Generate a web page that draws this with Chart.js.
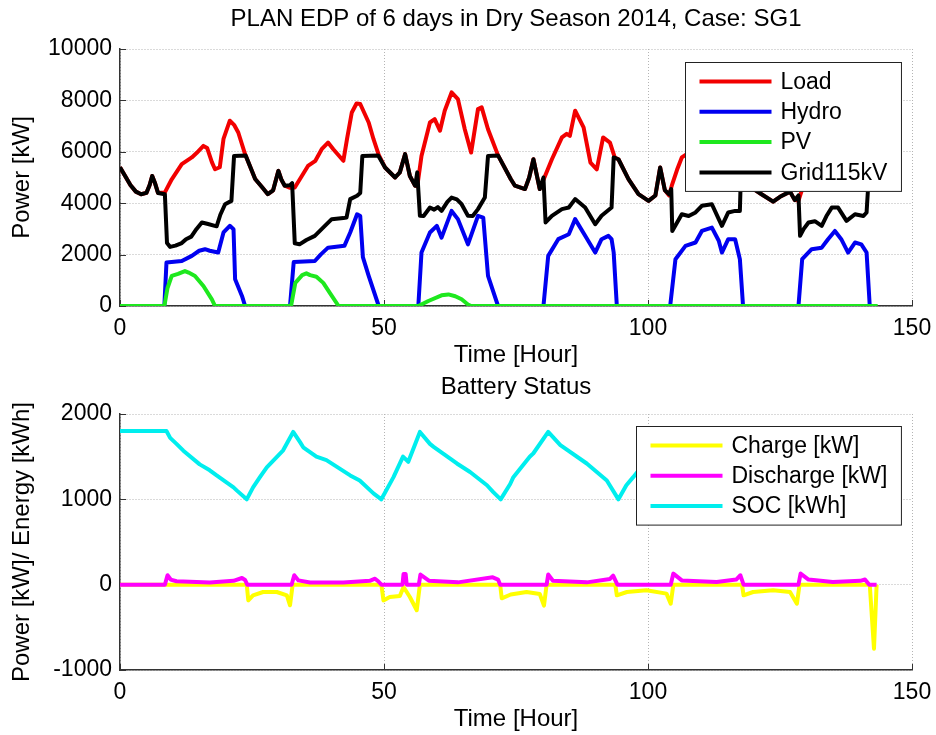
<!DOCTYPE html>
<html>
<head>
<meta charset="utf-8">
<title>PLAN EDP of 6 days in Dry Season 2014</title>
<script src="https://cdn.jsdelivr.net/npm/chart.js@4"></script>
<style>
  body { margin: 0; background: #fff; }
  #wrap { position: relative; width: 936px; height: 735px; background: #fff; }
  #power-chart { position: absolute; left: 0; top: 0; }
  #battery-chart { position: absolute; left: 0; top: 365px; }
</style>
</head>
<body>
<div id="wrap">
  <canvas id="power-chart" width="936" height="370"></canvas>
  <canvas id="battery-chart" width="936" height="369"></canvas>
</div>
<script>
// DATA: hours and values (breakpoints of each trace)
const loadHours = [0,1,2,3,4,5,5.6,6.1,6.6,7.2,8.5,9.8,11.7,13.6,14.5,15.8,16.5,17.4,18,18.9,19.6,20.8,21.6,22.4,23.7,25.6,27,28,29,30,30.6,31.2,32.2,33.1,35.6,37,38.2,39.4,40.4,42.3,43,43.9,44.8,45.5,47.1,48,49,50.2,52.1,53,54,54.9,55.9,56.3,57.1,58.7,59.6,60.6,61.5,62.8,64,65.3,66.5,67.8,68.5,69.7,71.6,74,74.8,76.7,77.5,78.3,79.5,80.5,81.8,83.7,84.6,85.2,86.2,87.8,89.1,90.3,91.5,92.8,93.7,94.4,96.3,98.2,100.1,101.4,102.3,103.2,104,104.5,105.5,106.4,108,109,110.2,111,112.1,113,114,115.2,116.5,117.4,118,119,120.3,121.5,123.7,125,126.9,127.8,128.5,129.2,130,131,132.9,134.1,134.8,135.4,136,137,137.9,139.2,140.4,141.4,142,143];
const loadKW = [5400,5050,4700,4450,4350,4400,4700,5060,4800,4400,4420,4930,5520,5780,5950,6230,6150,5600,5320,5400,6500,7210,7050,6750,5900,4940,4600,4350,4500,5260,4900,4680,4600,4610,5450,5650,6100,6360,6100,5650,6500,7530,7880,7860,7140,6500,5880,5390,5000,5200,5910,5060,4680,4650,5840,7140,7270,6820,7600,8310,8050,6880,5970,7660,7730,6880,5860,4940,4680,4550,5000,5710,4550,5060,5710,6560,6700,6620,7600,6950,5580,5320,6560,6360,5780,5710,4940,4350,4090,4300,5390,4500,4300,4680,5300,5780,6000,6100,6820,6900,7010,6300,5200,6240,6300,5600,5850,5800,4510,4350,4060,4250,4450,4120,4100,4550,5000,5450,5600,6100,6700,6750,6600,5900,5400,6040,5950,5700,5200,5200];

const hydroHours = [0,8.4,8.8,11.7,13.6,15,16.1,17,18.6,19.6,20.8,21.5,21.8,23.1,23.7,32.2,32.9,36.9,38,39.4,42.5,43.6,44.9,45.5,46,47.1,49,56.5,57.1,58.7,60,60.9,62.8,64,65.9,67.8,68.8,69.7,71.6,80.2,81.1,83,85,86.2,88.1,90,91.2,92.5,93.1,93.5,94.1,104.2,105.2,107.1,109,110.2,112.1,113.4,114,115.2,116.5,117.4,118,128.5,129.2,131,132.9,134.1,135.4,136.6,137.9,139.2,140.4,141.4,142,143];
const hydroKW = [0,0,1690,1750,1950,2150,2210,2150,2080,2860,3120,2990,1040,390,0,0,1710,1750,2000,2270,2340,2860,3570,3500,1900,1170,0,0,2080,2860,3120,2660,3700,3380,2400,3510,3440,1170,0,0,1950,2600,2790,3380,2730,2080,2600,2730,2600,2080,0,0,1820,2340,2470,2920,3050,2540,2080,2600,2600,1820,0,0,1820,2210,2270,2600,2920,2600,2080,2470,2400,2080,0,0];

const pvHours = [0,8.4,9,9.8,11,12.3,13,14.2,15.8,17.4,18,32.4,33.2,34.5,35.3,36,37.2,38.5,39.8,41.4,56.5,58.4,60.9,62.2,63.5,64.7,65.9,66.5,143.5];
const pvKW = [0,0,700,1170,1250,1360,1300,1170,780,260,0,0,900,1200,1270,1200,1140,900,490,0,0,195,415,450,380,260,60,0,0];

const gridHours = [0,1,2,3,4,5,5.6,6.1,6.6,7.2,8.5,8.9,9.5,10.5,11.7,12.5,13.5,14.5,15.5,16.5,18.3,19,19.9,21.1,21.6,23.8,25.6,27,28,29,30,30.6,31.2,32.2,32.6,33.1,34,35.3,36.9,38.8,40.1,42.3,42.9,43.6,44.9,45.5,45.9,48.9,50.2,52.1,53,54,54.9,55.9,56.3,56.8,57.5,58.7,59.5,60.2,60.9,62,62.8,63.8,64.7,65.9,66.8,67.8,69.1,69.7,71.6,74,74.8,76.7,77.5,78.3,79.5,80.2,80.6,81.8,83.7,85,86.2,88.1,90,91.2,93.1,93.5,94.4,96.3,98.2,100.1,101.4,102.3,103.2,104,104.4,104.6,106.4,107.7,109,110.2,112.1,113.4,114,115.2,116.5,117.4,117.7,119,120.3,121.5,123.7,125,126.9,127.8,128.5,128.8,129.5,130.4,131.6,132.9,133.8,134.8,136,137.6,139.2,140.8,141.4,141.8,143];
const gridKW = [5400,5050,4700,4450,4350,4400,4700,5060,4800,4400,4350,2450,2300,2350,2450,2600,2700,3000,3250,3200,3100,3550,3960,4090,5840,5860,4940,4600,4350,4500,5260,4900,4680,4700,4780,2440,2400,2570,2730,3120,3380,3420,3440,4160,4290,4400,5840,5860,5390,5000,5200,5910,5060,4680,5200,3510,3500,3830,3750,3850,3700,4050,4220,4150,3960,3510,3500,3770,4220,5840,5860,4940,4680,4550,5000,5710,4550,5000,3250,3510,3770,3830,4160,3830,3180,3510,3830,5780,5710,4940,4350,4090,4300,5390,4500,4350,4550,2920,3570,3500,3640,3900,3960,3380,3120,3640,3700,3700,5850,5850,4510,4350,4060,4250,4450,4120,4300,2730,3000,3250,3300,3120,3500,3830,3830,3310,3570,3500,3640,5000,5200];

const chargeHours = [0,24,24.3,25.2,27.1,29.7,31.6,32.2,32.7,49.5,49.9,51.1,53,53.7,54.9,56.2,56.8,72,72.3,74,77,79.5,80.3,80.8,93.8,94.1,96,99.7,103.5,104.3,104.8,117.8,118.1,119.9,123.7,126.9,128.2,128.7,142,142.8,143.3];
const chargeKW = [0,0,-184,-125,-86,-86,-125,-242,0,0,-184,-145,-133,-27,-145,-300,0,0,-160,-115,-85,-110,-245,0,0,-125,-86,-66,-105,-223,0,0,-125,-86,-66,-86,-223,0,0,-750,0];

const dischargeHours = [0,8.5,9,9.6,10.7,17,21.5,23.1,23.7,24.1,32.5,33,33.8,36,42.3,47.3,48.3,48.9,49.5,53.5,53.7,54.1,54.3,56.6,56.9,58.5,64,70.6,71.6,72,80.8,81.1,82,88.4,92.8,93.4,94.2,104.3,104.8,106.4,113,116.7,117.5,118.1,128.5,128.9,130.4,135,140.2,141.1,141.9,143.3];
const dischargeKW = [0,0,110,60,40,25,45,78,55,0,0,110,50,25,25,45,70,40,0,0,125,125,0,0,118,47,27,86,60,0,0,118,47,27,67,106,0,0,130,50,30,60,110,0,0,130,60,30,45,60,0,0];

const socHours = [0,8.8,9.5,10.7,12,15.1,17,18.3,21.5,22.1,24,25.2,26.5,27.8,30.9,32.8,34.1,34.7,37.2,39.1,43.6,45.4,48,49.5,51.8,53.6,54.6,56.8,58.7,59.4,63.8,66.3,69.5,70.7,72.1,73.9,74.5,77.6,78.3,81.1,83.4,88.4,92.2,94.4,95.9,97.2,100,104.6,106.5,112,116,117.8,120,124,128.8,130.5,136,140,142,143];
const socKWh = [1800,1800,1720,1650,1570,1410,1340,1280,1140,1105,1000,1140,1260,1375,1575,1790,1670,1610,1500,1460,1280,1220,1070,1000,1260,1500,1440,1790,1650,1615,1420,1320,1165,1085,1000,1180,1260,1500,1540,1790,1635,1420,1220,1000,1165,1260,1480,1790,1640,1420,1220,1000,1230,1500,1790,1640,1420,1220,1000,1200];

const FONT = '"Liberation Sans", Arial, Helvetica, sans-serif';
Chart.defaults.font.family = FONT;
Chart.defaults.color = '#000';

// HELPERS
const toPoints = (hours, values) => hours.map((h, i) => ({ x: h, y: values[i] }));

const makeLine = (label, hours, values, color, order) => ({
  label: label,
  data: toPoints(hours, values),
  borderColor: color,
  backgroundColor: color,
  borderWidth: 4,
  borderJoinStyle: 'round',
  pointRadius: 0,
  tension: 0,
  fill: false,
  order: order
});

// MATLAB style ticks that point into the axes
const insideTicks = {
  id: 'insideTicks',
  beforeDatasetsDraw(chart) {
    const { ctx, chartArea, scales } = chart;
    ctx.save();
    ctx.strokeStyle = '#333';
    ctx.lineWidth = 1;
    ctx.beginPath();
    scales.x.ticks.forEach(t => {
      const px = Math.round(scales.x.getPixelForValue(t.value)) + 0.5;
      ctx.moveTo(px, chartArea.bottom);
      ctx.lineTo(px, chartArea.bottom - 6);
    });
    scales.y.ticks.forEach(t => {
      const py = Math.round(scales.y.getPixelForValue(t.value)) + 0.5;
      ctx.moveTo(chartArea.left, py);
      ctx.lineTo(chartArea.left + 6, py);
    });
    ctx.stroke();
    ctx.restore();
  }
};

// boxed legend in the upper right corner of the axes
const boxLegend = {
  id: 'boxLegend',
  afterDatasetsDraw(chart, args, opts) {
    const { ctx, chartArea } = chart;
    const sets = chart.data.datasets;
    ctx.save();
    ctx.font = opts.fontSize + 'px ' + FONT;
    const textW = Math.max(...sets.map(d => ctx.measureText(d.label).width));
    const w = opts.sampleX + opts.sampleLen + opts.textGap + textW + opts.padRight;
    const h = 2 * opts.firstRow + (sets.length - 1) * opts.rowHeight;
    const x1 = Math.round(chartArea.right - opts.right - w) + 0.5;
    const y1 = Math.round(chartArea.top + opts.top) + 0.5;
    ctx.fillStyle = '#fff';
    ctx.fillRect(x1, y1, w, h);
    ctx.strokeStyle = '#222';
    ctx.lineWidth = 1;
    ctx.strokeRect(x1, y1, w, h);
    sets.forEach((d, i) => {
      const cy = y1 + opts.firstRow + i * opts.rowHeight;
      ctx.strokeStyle = d.borderColor;
      ctx.lineWidth = d.borderWidth;
      ctx.beginPath();
      ctx.moveTo(x1 + opts.sampleX, cy);
      ctx.lineTo(x1 + opts.sampleX + opts.sampleLen, cy);
      ctx.stroke();
      ctx.fillStyle = '#000';
      ctx.textBaseline = 'middle';
      ctx.textAlign = 'left';
      ctx.fillText(d.label, x1 + opts.sampleX + opts.sampleLen + opts.textGap, cy + 1);
    });
    ctx.restore();
  }
};

const tickFont = { size: 23, family: FONT, lineHeight: 1.2 };
const labelFont = { size: 24, family: FONT, lineHeight: 1.2 };
const plainNumber = (value) => String(value);

const timeAxis = () => ({
  type: 'linear',
  min: 0,
  max: 150,
  ticks: { stepSize: 50, padding: 9, color: '#000', font: tickFont, maxRotation: 0, callback: plainNumber },
  grid: { color: '#b4b4b4', lineWidth: 1, drawTicks: false },
  border: { display: true, color: '#333', width: 1.5, dash: [1, 2] },
  title: { display: true, text: 'Time [Hour]', color: '#000', font: labelFont, padding: { top: 0, bottom: 0.6 } },
  afterFit: (scale) => {
    scale.height = 64;
    scale.paddingLeft = 0;
    scale.paddingRight = 0;
  }
});

const valueAxis = (min, max, step, text) => ({
  type: 'linear',
  min: min,
  max: max,
  ticks: { stepSize: step, padding: 8, color: '#000', font: tickFont, callback: plainNumber },
  grid: { color: '#b4b4b4', lineWidth: 1, drawTicks: false },
  border: { display: true, color: '#333', width: 1.5, dash: [1, 2] },
  title: { display: true, text: text, color: '#000', font: labelFont, padding: { top: 7.6, bottom: 0 } },
  afterFit: (scale) => {
    scale.width = 120;
    scale.paddingTop = 0;
    scale.paddingBottom = 0;
  }
});

const baseOptions = (titleText, titlePad, legendTop, yAxis) => ({
  responsive: false,
  animation: false,
  events: [],
  layout: { padding: { left: 0, right: 24, top: 0, bottom: 0 } },
  scales: { x: timeAxis(), y: yAxis },
  plugins: {
    legend: { display: false },
    tooltip: { enabled: false },
    title: {
      display: true,
      text: titleText,
      fullSize: false,
      color: '#000',
      font: { size: 24, weight: 'normal', family: FONT, lineHeight: 1.2 },
      padding: titlePad
    },
    boxLegend: { right: 11, top: legendTop, fontSize: 23, sampleX: 14, sampleLen: 72, textGap: 9, padRight: 14, firstRow: 19, rowHeight: 30.3 }
  }
});

// CHARTS
function makePowerChart() {
  return new Chart(document.getElementById('power-chart'), {
    type: 'line',
    data: {
      datasets: [
        makeLine('Load', loadHours, loadKW, '#f20000', 4),
        makeLine('Hydro', hydroHours, hydroKW, '#0000f0', 3),
        makeLine('PV', pvHours, pvKW, '#1ee81e', 2),
        makeLine('Grid115kV', gridHours, gridKW, '#000000', 1)
      ]
    },
    options: baseOptions('PLAN EDP of 6 days in Dry Season 2014, Case: SG1', { top: 5, bottom: 15.2 }, 13,
      valueAxis(0, 10000, 2000, 'Power [kW]')),
    plugins: [insideTicks, boxLegend]
  });
}

function makeBatteryChart() {
  return new Chart(document.getElementById('battery-chart'), {
    type: 'line',
    data: {
      datasets: [
        makeLine('Charge [kW]', chargeHours, chargeKW, '#ffff00', 3),
        makeLine('Discharge [kW]', dischargeHours, dischargeKW, '#ff00ff', 2),
        makeLine('SOC [kWh]', socHours, socKWh, '#00eeee', 1)
      ]
    },
    options: baseOptions('Battery Status', { top: 8, bottom: 12.2 }, 12,
      valueAxis(-1000, 2000, 1000, 'Power [kW]/ Energy [kWh]')),
    plugins: [insideTicks, boxLegend]
  });
}

makePowerChart();
makeBatteryChart();
</script>
</body>
</html>
